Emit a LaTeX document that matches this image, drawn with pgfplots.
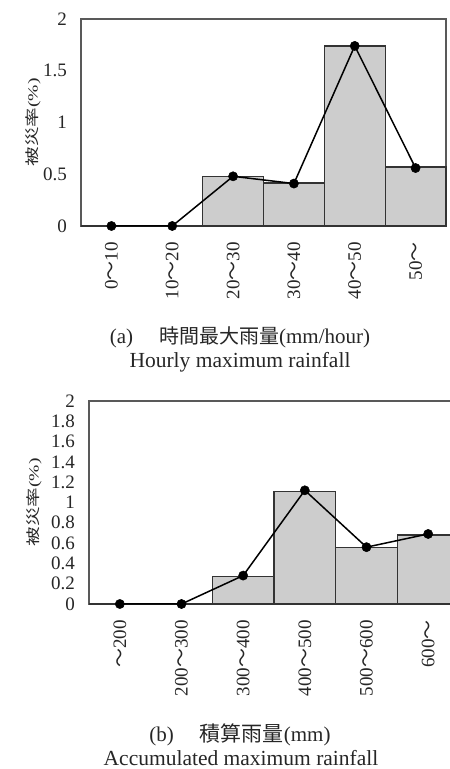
\documentclass[border=0pt]{standalone}
\usepackage{fontspec}
\setmainfont{Liberation Serif}
\newfontfamily\cjk{Noto Sans CJK JP}
\usepackage{pgfplots}
\pgfplotsset{compat=1.18}
\definecolor{barfill}{HTML}{CDCDCD}
\definecolor{txt}{HTML}{262626}
\begin{document}
\begin{tikzpicture}
\path[use as bounding box] (0,0) rectangle (450pt,769pt);
\pgfplotsset{
  myax/.style={
    scale only axis, anchor=south west, clip=false,
    xmin=-0.5, xmax=5.5, ymin=0, ymax=2,
    xtick={0,1,2,3,4,5},
    major tick length=0pt,
    axis line style={draw=black!65, line width=1.6pt},
    tick label style={font=\fontsize{19}{20}\selectfont, text=txt, inner sep=0pt},
    yticklabel shift=14pt,
    xticklabel shift=16pt,
    xticklabel style={rotate=90, anchor=east},
    every axis y label/.style={rotate=90, anchor=center, text=txt,
      font=\fontsize{14}{15}\selectfont},
  },
  bars/.style={ybar, bar width=1, bar shift=0pt, fill=barfill, draw=black!80, line width=1.2pt},
  pts/.style={black, line width=1.5pt, mark=*, mark size=4.6pt, mark options={fill=black, line width=0.5pt}},
}
% (a)
\begin{axis}[myax, at={(81pt,543pt)}, width=365pt, height=207pt,
  ytick={0,0.5,1,1.5,2}, yticklabels={0,0.5,1,1.5,2},
  xticklabels={0{\cjk ～}10,10{\cjk ～}20,20{\cjk ～}30,30{\cjk ～}40,40{\cjk ～}50,50{\cjk ～}},
  ylabel={\scalebox{1.4}[1]{{\cjk 被災率}(\%)}},
  ylabel style={at={(axis description cs:-0.131,0.5)}},
]
\addplot[bars] coordinates {(0,0) (1,0) (2,0.48) (3,0.415) (4,1.74) (5,0.57)};
\addplot[pts] coordinates {(0,0) (1,0) (2,0.48) (3,0.41) (4,1.74) (5,0.56)};
\end{axis}
% (b)
\begin{axis}[myax, at={(89pt,165pt)}, width=370pt, height=203pt,
  ytick={0,0.2,0.4,0.6,0.8,1,1.2,1.4,1.6,1.8,2},
  yticklabels={0,0.2,0.4,0.6,0.8,1,1.2,1.4,1.6,1.8,2},
  xticklabels={{\cjk ～}200,200{\cjk ～}300,300{\cjk ～}400,400{\cjk ～}500,500{\cjk ～}600,600{\cjk ～}},
  ylabel={\scalebox{1.4}[1]{{\cjk 被災率}(\%)}},
  ylabel style={at={(axis description cs:-0.148,0.5)}},
]
\addplot[bars] coordinates {(0,0) (1,0) (2,0.27) (3,1.11) (4,0.555) (5,0.68)};
\addplot[pts] coordinates {(0,0) (1,0) (2,0.28) (3,1.12) (4,0.56) (5,0.69)};
\end{axis}
% captions
\node[text=txt, font=\fontsize{21}{22}\selectfont] at (240pt,432pt)
  {(a)\hspace{26pt}{\cjk\fontsize{20}{22}\selectfont 時間最大雨量}(mm/hour)};
\node[text=txt, font=\fontsize{21.5}{22}\selectfont] at (240pt,407pt)
  {Hourly maximum rainfall};
\node[text=txt, font=\fontsize{21}{22}\selectfont] at (240pt,34pt)
  {(b)\hspace{26pt}{\cjk\fontsize{21}{22}\selectfont 積算雨量}(mm)};
\node[text=txt, font=\fontsize{21.5}{22}\selectfont] at (241pt,11pt)
  {Accumulated maximum rainfall};
\end{tikzpicture}
\end{document}
